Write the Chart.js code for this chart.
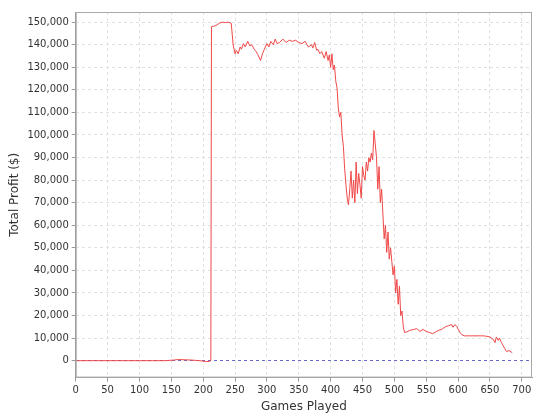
<!DOCTYPE html><html><head><script src="https://cdn.jsdelivr.net/npm/chart.js@4"></script>
<style>body{margin:0;background:#fff}</style></head><body>
<div style="width:540px;height:420px"><canvas id="c"></canvas></div>
<script>
const games = [0,20,40,60,80,100,120,140,155,160,170,180,190,200,205,210,212,213,216,220,225,230,235,240,244,247,250,252,255,258,260,263,266,270,273,276,280,283,286,290,293,296,300,303,306,310,313,316,320,325,330,335,340,345,350,355,360,365,370,372,375,378,380,383,386,390,393,396,398,400,402,404,406,408,410,412,414,416,418,420,422,424,426,428,430,432,434,436,438,440,442,444,446,448,450,452,454,456,458,460,462,464,466,468,470,472,474,476,478,480,482,484,486,488,490,492,494,496,498,500,502,504,506,508,510,512,514,516,520,525,530,535,540,545,550,555,560,565,570,575,580,585,590,592,595,598,600,603,606,610,620,630,640,645,650,655,658,660,663,665,668,670,673,676,680,685];
const profit = [0,0,0,0,0,0,0,0,300,500,400,300,100,-200,-400,-300,0,148000,148200,148500,149500,150000,149800,150000,149500,140000,136000,137500,136000,139000,138000,140500,139000,141500,139500,140000,138000,137000,135500,133000,136000,138000,140500,139000,141500,140000,142500,140500,141000,142500,141000,142000,141500,142000,141000,140500,141500,139000,140000,138500,141000,137500,138000,136000,137000,134000,137000,133000,135500,130000,136000,129000,131000,124000,121000,112000,108000,110000,100000,95000,85000,78000,72000,69000,76000,84000,72000,80000,70000,88000,74000,83000,78000,72000,86000,82000,80000,88000,84000,90000,88000,92000,89000,102000,96000,90000,76000,86000,70000,76000,65000,54000,60000,48000,57000,45000,50000,44000,38000,42000,30000,36000,25000,33000,20000,22000,15000,12500,12800,13500,13800,14200,13000,13800,13000,12500,12000,12800,13500,14000,15000,15500,16000,14800,16000,15200,14000,12500,11500,11000,11000,11000,11000,10800,10500,9500,8000,10500,9000,10000,8000,7000,5500,4000,4500,3500];
const xTicks = [0,50,100,150,200,250,300,350,400,450,500,550,600,650,700];
const frame = {id:'frame',afterDraw(ch){const a=ch.chartArea,x=ch.ctx;x.save();x.strokeStyle='#aaa';x.lineWidth=1;x.strokeRect(a.left+0.5,a.top+0.5,a.width-1,a.height-1);x.restore();}};
new Chart(document.getElementById('c'),{
 type:'line',
 data:{datasets:[{data:games.map((g,i)=>({x:g,y:profit[i]})),borderColor:'#f04848',borderWidth:1,pointRadius:0,tension:0}]},
 options:{responsive:true,maintainAspectRatio:false,animation:false,
  layout:{padding:{left:6,right:8,top:12,bottom:6}},
  plugins:{legend:{display:false},tooltip:{enabled:false}},
  scales:{
   x:{type:'linear',min:0,max:716,afterBuildTicks:a=>{a.ticks=xTicks.map(v=>({value:v}))},
     grid:{color:'#e0e0e0',tickLength:4,tickColor:'#999'},border:{color:'#999',dash:[3,3]},
     ticks:{font:{family:'DejaVu Sans',size:10},color:'#333',maxRotation:0},
     title:{display:true,text:'Games Played',font:{family:'DejaVu Sans',size:12},color:'#333',padding:0}},
   y:{min:-7500,max:154500,afterBuildTicks:a=>{const t=[];for(let v=0;v<=150000;v+=10000)t.push({value:v});a.ticks=t},
     grid:{color:c=>c.tick&&c.tick.value===0?'#6a6ac8':'#e0e0e0',tickLength:4,tickColor:'#999'},border:{color:'#999',dash:[3,3]},
     ticks:{font:{family:'DejaVu Sans',size:10},color:'#333',callback:v=>v.toLocaleString('en-US')},
     title:{display:true,text:'Total Profit ($)',font:{family:'DejaVu Sans',size:12},color:'#333',padding:2}}
  }},
 plugins:[frame]
});
</script></body></html>
